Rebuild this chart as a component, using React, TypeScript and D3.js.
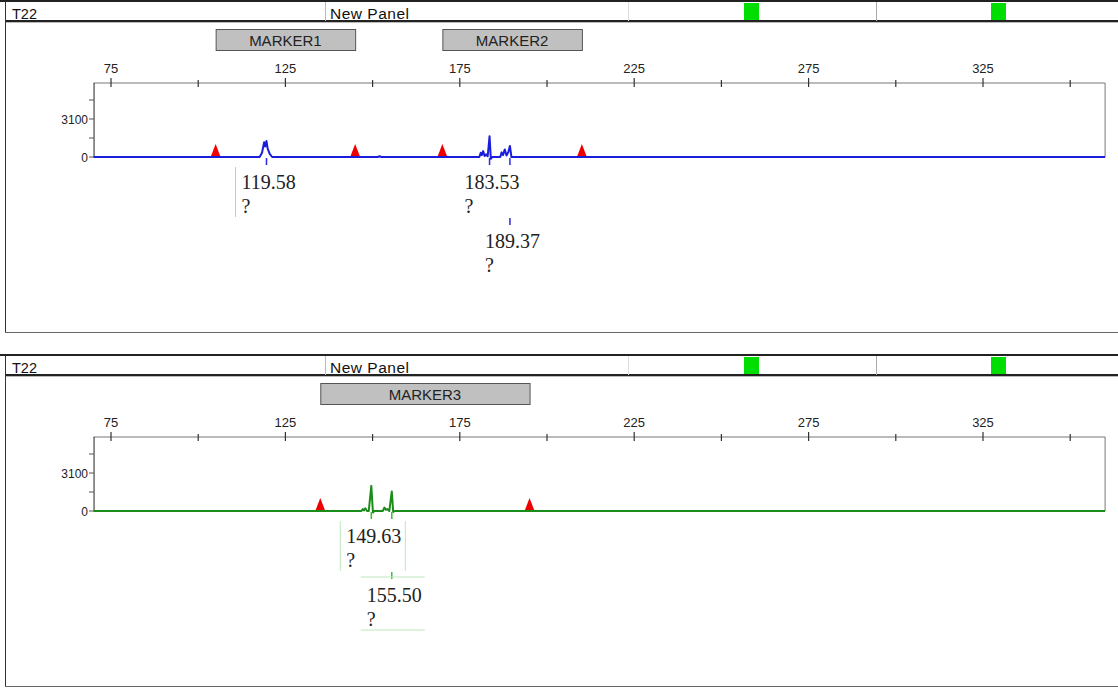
import React from 'react';
import * as d3 from 'd3';

// size axis (bp) and signal axis (rfu)
const bpTicks = [75, 100, 125, 150, 175, 200, 225, 250, 275, 300, 325, 350];
const bpLabels = [75, 125, 175, 225, 275, 325];
const rfuTicks = [0, 1550, 3100, 4650];
const rfuLabels = [0, 3100];

// header row
const sampleName = 'T22';
const panelName = 'New Panel';

// panel 1 (blue dye)
const markers1 = ['MARKER1', 'MARKER2'];
const markerRanges1 = [[105, 145], [170, 210]];
const trace1Bp = [70, 117.6, 118.3, 118.9, 119.2, 119.58, 119.9, 120.5, 121.2, 151.5, 152, 152.5, 180.6, 181.0, 181.3, 181.7, 182.1, 182.5, 183.0, 183.53, 183.9, 184.3, 186.6, 187.0, 187.4, 187.9, 188.4, 188.9, 189.37, 189.8, 360];
const trace1Rfu = [0, 0, 350, 1200, 850, 1300, 700, 250, 0, 0, 60, 0, 0, 350, 150, 480, 80, 220, 60, 1700, -150, 0, 0, 380, 150, 620, 120, 400, 900, 0, 0];
const peaks1 = ['119.58', '183.53', '189.37'];
const peakRows1 = [0, 0, 1];

// panel 2 (green dye)
const markers2 = ['MARKER3'];
const markerRanges2 = [[135, 195]];
const trace2Bp = [70, 146.8, 147.2, 147.5, 147.9, 148.4, 148.9, 149.63, 150.1, 150.5, 152.9, 153.4, 153.8, 154.2, 154.8, 155.5, 155.9, 156.3, 360];
const trace2Rfu = [0, 0, 150, 40, 220, 0, 0, 2050, -120, 0, 0, 280, 100, 160, 0, 1600, -80, 0, 0];
const peaks2 = ['149.63', '155.50'];
const peakRows2 = [0, 1];

const x = d3.scaleLinear().domain([75, 325]).range([111, 983]);
const y = d3.scaleLinear().domain([0, 3100]).range([157, 119]);
const plotL = x(70);
const plotR = x(360);
const plotT = 83;

const sans = 'Liberation Sans, Arial, sans-serif';
const serif = 'Liberation Serif, Times New Roman, serif';

type PanelProps = {
  top: number;
  markers: string[];
  ranges: number[][];
  bp: number[];
  rfu: number[];
  peaks: string[];
  rows: number[];
  boxes: string[];
  color: string;
  tick: string;
  faint: string;
};

function Panel({ top, markers, ranges, bp, rfu, peaks, rows, boxes, color, tick, faint }: PanelProps) {
  const line = d3.line<number>()
    .x((_, i) => x(bp[i]))
    .y(d => y(d));
  const base = y(0);
  const rowBase = [base + 32, base + 91];

  return (
    <g transform={`translate(0,${top})`}>
      {/* header */}
      <rect x={5.5} y={1.5} width={1130} height={331} fill="#fff" stroke="#555" strokeWidth={1} />
      <line x1={0} x2={1118} y1={1} y2={1} stroke="#222" strokeWidth={2} />
      <line x1={5} x2={1118} y1={21} y2={21} stroke="#222" strokeWidth={2} />
      <line x1={5} x2={1118} y1={22.5} y2={22.5} stroke="#bbb" strokeWidth={1} />
      <line x1={5.5} x2={5.5} y1={1} y2={333} stroke="#333" strokeWidth={1} />
      <line x1={5} x2={1118} y1={332.5} y2={332.5} stroke="#666" strokeWidth={1} />
      <line x1={325.5} x2={325.5} y1={2} y2={21} stroke="#bbb" />
      <line x1={628.5} x2={628.5} y1={2} y2={21} stroke="#ddd" />
      <line x1={876.5} x2={876.5} y1={2} y2={21} stroke="#aaa" />
      <rect x={744} y={3} width={15} height={17} fill="#00dd00" />
      <rect x={991} y={3} width={15} height={17} fill="#00dd00" />
      <text x={12} y={19} fontFamily={sans} fontSize={14.5} fill="#111">{sampleName}</text>
      <text x={330} y={19} fontFamily={sans} fontSize={15.5} fill="#111" textLength={79}>{panelName}</text>

      {/* marker bins */}
      {markers.map((m, i) => (
        <g key={m}>
          <rect x={x(ranges[i][0]) + 0.5} y={29.5} width={x(ranges[i][1]) - x(ranges[i][0])} height={21}
            fill="#c0c0c0" stroke="#555" strokeWidth={1} />
          <text x={(x(ranges[i][0]) + x(ranges[i][1])) / 2} y={46} textAnchor="middle"
            fontFamily={sans} fontSize={15} fill="#222">{m}</text>
        </g>
      ))}

      {/* x axis */}
      <line x1={plotL} x2={plotR} y1={plotT} y2={plotT} stroke="#777" strokeWidth={1} />
      <line x1={plotR} x2={plotR} y1={plotT} y2={base} stroke="#777" strokeWidth={1} />
      <line x1={plotL + 0.5} x2={plotL + 0.5} y1={plotT} y2={base} stroke="#222" strokeWidth={1} />
      {bpTicks.map(t => (
        <line key={t} x1={x(t)} x2={x(t)} y1={bpLabels.includes(t) ? 78 : 80} y2={87}
          stroke="#333" strokeWidth={1.2} />
      ))}
      {bpLabels.map(t => (
        <text key={t} x={x(t)} y={73} textAnchor="middle" fontFamily={sans} fontSize={13} fill="#222">{t}</text>
      ))}

      {/* y axis */}
      {rfuTicks.map(t => (
        <line key={t} x1={89} x2={94} y1={y(t)} y2={y(t)} stroke="#555" strokeWidth={1} />
      ))}
      {rfuLabels.map(t => (
        <text key={t} x={88} y={y(t) + 4.5} textAnchor="end" fontFamily={sans} fontSize={12} fill="#222">{t}</text>
      ))}

      {/* bin edge triangles */}
      {ranges.flat().map((r, i) => (
        <path key={i} d={`M${x(r) - 5},${base} L${x(r)},${base - 13} L${x(r) + 5},${base} Z`} fill="#ee0000" />
      ))}

      {/* trace */}
      <path d={line(rfu) ?? ''} fill="none" stroke={color} strokeWidth={2} strokeLinejoin="round" />

      {/* peak calls */}
      {peaks.map((p, i) => {
        const px = x(+p);
        const tb = rowBase[rows[i]];
        const tx = px - 25;
        const b = boxes[i];
        return (
          <g key={p}>
            <line x1={px} x2={px} y1={base + 1} y2={base + 8} stroke={tick} strokeWidth={1.5} />
            {rows[i] > 0 && <line x1={px} x2={px} y1={tb - 30} y2={tb - 23} stroke={tick} strokeWidth={1.5} />}
            {b.includes('l') && <line x1={tx - 6} x2={tx - 6} y1={tb - 22} y2={tb + 28} stroke={faint} />}
            {b.includes('r') && <line x1={tx + 59} x2={tx + 59} y1={tb - 22} y2={tb + 28} stroke={faint} />}
            {b.includes('t') && <line x1={tx - 6} x2={tx + 58} y1={tb - 25} y2={tb - 25} stroke={faint} />}
            {b.includes('b') && <line x1={tx - 6} x2={tx + 58} y1={tb + 28} y2={tb + 28} stroke={faint} />}
            <text x={tx} y={tb} fontFamily={serif} fontSize={20} fill="#222">{p}</text>
            <text x={tx} y={tb + 24} fontFamily={serif} fontSize={20} fill="#222">?</text>
          </g>
        );
      })}
    </g>
  );
}

export default function App() {
  return (
    <div style={{ position: 'absolute', left: 0, top: 0 }}>
      <svg width={1118} height={690} style={{ display: 'block', background: '#fff' }}>
        <Panel top={0} markers={markers1} ranges={markerRanges1} bp={trace1Bp} rfu={trace1Rfu}
          peaks={peaks1} rows={peakRows1} boxes={['l', '', '']}
          color="#1c1cdc" tick="#2a2ae0" faint="#c4c4f2" />
        <Panel top={354} markers={markers2} ranges={markerRanges2} bp={trace2Bp} rfu={trace2Rfu}
          peaks={peaks2} rows={peakRows2} boxes={['lr', 'tb']}
          color="#1a8c1a" tick="#33c033" faint="#bfe8bf" />
      </svg>
    </div>
  );
}
